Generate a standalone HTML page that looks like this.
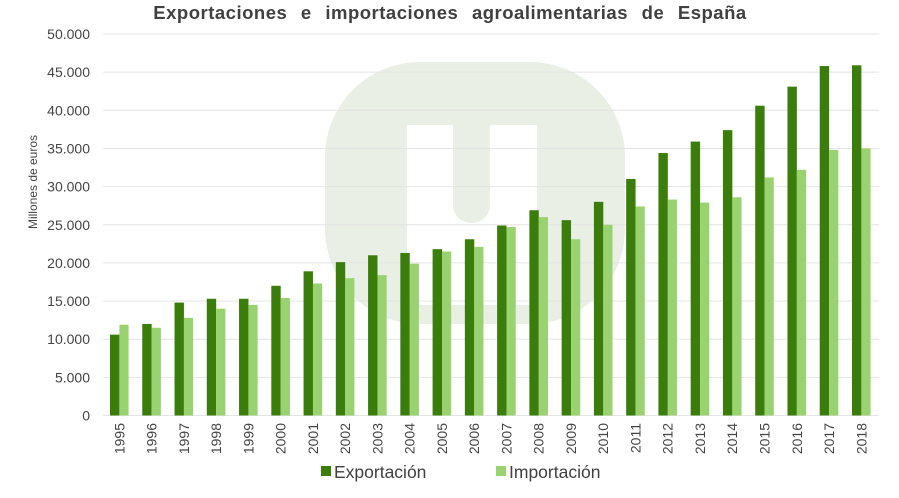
<!DOCTYPE html>
<html><head><meta charset="utf-8"><style>
html,body{margin:0;padding:0;background:#fff;}
svg{display:block;font-family:"Liberation Sans",Arial,sans-serif;}
</style></head><body>
<svg width="899" height="498" viewBox="0 0 899 498">
<rect width="899" height="498" fill="#fff"/>
<!-- watermark -->
<rect x="325" y="62" width="300" height="262" rx="95" ry="95" fill="#e9efe5"/>
<rect x="407" y="125" width="130" height="180" fill="#fff"/>
<rect x="453" y="110" width="37" height="113" rx="18" fill="#e9efe5"/>
<rect x="453" y="110" width="37" height="80" fill="#e9efe5"/>
<g id="grid" stroke="#e4e4e4" stroke-width="1"></g>
<g id="bars"></g>
<g id="ylab" font-size="14" fill="#444" text-anchor="end"></g>
<g id="xlab" font-size="14" fill="#444"></g>
<text x="450" y="19" text-anchor="middle" font-size="18.5" font-weight="bold" fill="#404040" word-spacing="8" letter-spacing="0.5">Exportaciones e importaciones agroalimentarias de España</text>
<text transform="translate(37,182) rotate(-90)" text-anchor="middle" font-size="12" fill="#444">Millones de euros</text>
<rect x="321" y="466" width="10" height="10" fill="#3a7d0a"/>
<text x="334" y="478" font-size="17.5" fill="#404040">Exportación</text>
<rect x="496" y="466" width="10" height="10" fill="#9ad272"/>
<text x="509" y="478" font-size="17.5" fill="#404040">Importación</text>
</svg>
<script>
var ex=[10.6,12.0,14.8,15.3,15.3,17.0,18.9,20.1,21.0,21.3,21.8,23.1,24.9,26.9,25.6,28.0,31.0,34.4,35.9,37.4,40.6,43.1,45.8,45.9];
var im=[11.9,11.5,12.8,14.0,14.5,15.4,17.3,18.0,18.4,19.9,21.5,22.1,24.7,26.0,23.1,25.0,27.4,28.3,27.9,28.6,31.2,32.2,34.8,35.0];
var ns="http://www.w3.org/2000/svg";
function el(p,t,a,txt){var e=document.createElementNS(ns,t);for(var k in a)e.setAttribute(k,a[k]);if(txt!=null)e.textContent=txt;p.appendChild(e);return e;}
var y0=415.5,sc=381.5/50;
var g=document.getElementById('grid'),yl=document.getElementById('ylab');
for(var i=0;i<=10;i++){var v=i*5,y=y0-v*sc;
 el(g,'line',{x1:103,x2:879,y1:y,y2:y});
 el(yl,'text',{x:90,y:y+5},i==0?'0':(v+'.000'));}
var b=document.getElementById('bars'),xl=document.getElementById('xlab');
for(var i=0;i<24;i++){var x=110+i*32.26;
 el(b,'rect',{x:x,y:y0-ex[i]*sc,width:9.4,height:ex[i]*sc,fill:'#3a7d0a'});
 el(b,'rect',{x:x+9.4,y:y0-im[i]*sc,width:9.2,height:im[i]*sc,fill:'#9ad272'});
 var cx=x+9.3+5;
 el(xl,'text',{transform:'translate('+cx+',423) rotate(-90)','text-anchor':'end'},String(1995+i));}
</script>
</body></html>
